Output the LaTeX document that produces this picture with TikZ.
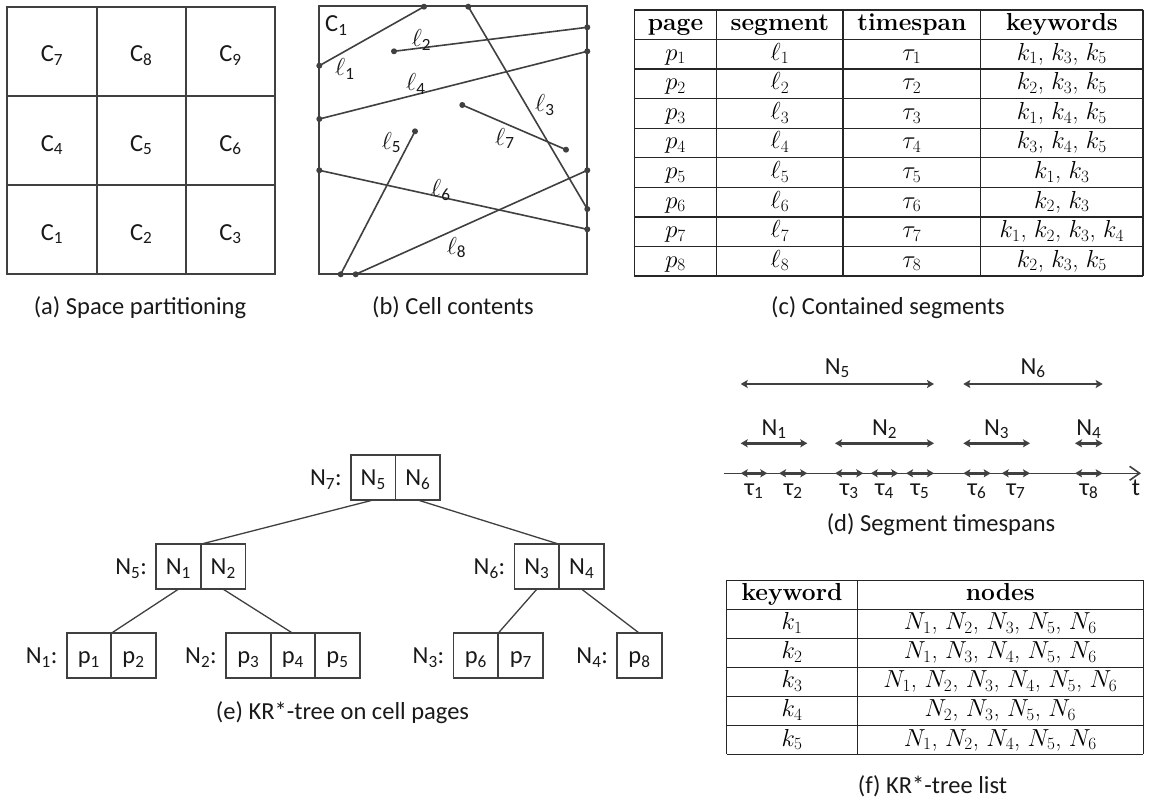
\RequirePackage{fix-cm}
\documentclass[tikz,border=0pt]{standalone}
\usepackage{fontspec}
\newfontfamily\lab{Carlito}
\usetikzlibrary{arrows.meta}
\definecolor{ink}{RGB}{64,64,64}
\definecolor{txt}{RGB}{25,25,25}
\tikzset{
  lbl/.style={font=\lab\fontsize{24.5}{29}\selectfont, text=txt, inner sep=0pt},
  tab/.style={font=\fontsize{24.6}{29.5}\selectfont, text=black, inner sep=0pt, anchor=base},
  tabh/.style={tab, font=\fontsize{24.6}{29.5}\selectfont\bfseries},
  rule/.style={draw=black!85, line width=1.4pt},
  gridline/.style={draw=ink, line width=2pt},
  seg/.style={draw=ink, line width=1.6pt},
  dot/.style={circle, fill=ink, inner sep=0pt, minimum size=6pt},
  span/.style={draw=ink, line width=2.4pt, {Stealth[length=7pt,width=8pt,inset=1.5pt]}-{Stealth[length=7pt,width=8pt,inset=1.5pt]}},
  axis/.style={draw=ink, line width=1.6pt, -{Straight Barb[length=10pt,width=14pt,line width=1.6pt]}},
  cellbox/.style={draw=ink, line width=1.8pt, minimum width=44.6pt, minimum height=45pt,
    inner sep=0pt, outer sep=0pt, text height=16pt, text depth=0pt,
    font=\lab\fontsize{24.5}{29}\selectfont, text=txt},
  tlabel/.style={lbl, text height=16pt, text depth=0pt, anchor=east},
  edge/.style={draw=ink, line width=1.3pt}
}
\begin{document}
\begin{tikzpicture}[x=1pt,y=-1pt]
\fill[white] (0,0) rectangle (1162,800);
\useasboundingbox (0,0) rectangle (1162,800);

% ---------- (a) 3x3 space partition ----------
\draw[gridline] (7.3,6.7) rectangle (275.3,274.3);
\draw[gridline] (96.7,6.7) -- (96.7,274.3);
\draw[gridline] (185.7,6.7) -- (185.7,274.3);
\draw[gridline] (7.3,96) -- (275.3,96);
\draw[gridline] (7.3,185) -- (275.3,185);
\foreach \n/\x/\y in {7/52/51.3, 8/141.2/51.3, 9/230.5/51.3,
                      4/52/140.5, 5/141.2/140.5, 6/230.5/140.5,
                      1/52/229.7, 2/141.2/229.7, 3/230.5/229.7}
  \node[lbl, anchor=base] (cell\n) at (\x,\y+10.5) {C\textsubscript{\n}};
\node[lbl, anchor=base] (capa) at (140,314) {(a) Space partitioning};

% ---------- (b) segments inside cell C1 ----------
\draw[gridline] (319.3,6) rectangle (587.3,274.3);
\node[lbl, anchor=base west] (cellname) at (325,31.7) {C\textsubscript{1}};
\foreach \n/\ax/\ay/\bx/\by in {1/319.3/65.7/424/6.7, 2/394/51.3/587.3/27.3,
    3/468.3/6.7/587.3/209, 4/319.3/119/587.3/51.3, 5/415/131.3/340.7/274.3,
    6/319.3/170.3/587.3/229.3, 7/462.3/105/566/149.7, 8/355.7/274.3/587.3/170.3}{
  \node[dot] (sa\n) at (\ax,\ay) {};
  \node[dot] (sb\n) at (\bx,\by) {};
  \draw[seg] (sa\n.center) -- (sb\n.center);
}
\foreach \n/\x/\y in {1/335/76, 2/411.7/46.7, 3/535/111.7, 4/406/90.7,
                      5/381.7/149, 6/431/196.7, 7/495/145, 8/446.7/254}
  \node[lbl, anchor=base west] (ell\n) at (\x,\y) {$\ell$\textsubscript{\n}};
\node[lbl, anchor=base] (capb) at (453,314) {(b) Cell contents};

% ---------- (c) table of contained segments ----------
\foreach \i in {0,...,9}
  \draw[rule] (634.3,{10+29.556*\i}) -- (1143,{10+29.556*\i});
\foreach \x in {634.3,716.7,843,980.7,1143}
  \draw[rule] (\x,10) -- (\x,276);
\node[tabh] (hpage) at (675.5,30.7) {page};
\node[tabh] (hseg)  at (779.9,30.7) {segment};
\node[tabh] (hspan) at (911.9,30.7) {timespan};
\node[tabh] (hkey)  at (1061.9,30.7) {keywords};
\foreach \i/\kw in {1/{$k_1$, $k_3$, $k_5$}, 2/{$k_2$, $k_3$, $k_5$},
                    3/{$k_1$, $k_4$, $k_5$}, 4/{$k_3$, $k_4$, $k_5$},
                    5/{$k_1$, $k_3$}, 6/{$k_2$, $k_3$},
                    7/{$k_1$, $k_2$, $k_3$, $k_4$}, 8/{$k_2$, $k_3$, $k_5$}}{
  \node[tab] (cp\i) at (675.5,{10+29.556*\i+20.7}) {$p_{\i}$};
  \node[tab] (cl\i) at (779.9,{10+29.556*\i+20.7}) {$\ell_{\i}$};
  \node[tab] (ct\i) at (911.9,{10+29.556*\i+20.7}) {$\tau_{\i}$};
  \node[tab] (ck\i) at (1061.9,{10+29.556*\i+20.7}) {\kw};
}
\node[lbl, anchor=base] (capc) at (888,314) {(c) Contained segments};

% ---------- (d) timespans on the time axis ----------
\coordinate (ax0) at (724,473.3);
\coordinate (ax1) at (1141,473.3);
\draw[axis] (ax0) -- (ax1);
\foreach \n/\a/\b in {1/740.7/767.3, 2/779/807.3, 3/835/863.3, 4/870.7/898.3,
                      5/906/934, 6/963.3/990.7, 7/1001.7/1030, 8/1075/1102.7}{
  \coordinate (tsa\n) at (\a,473.3);
  \coordinate (tsb\n) at (\b,473.3);
  \draw[span] (tsa\n) -- (tsb\n);
  \node[lbl, anchor=base] (tau\n) at ({(\a+\b)/2},495) {τ\textsubscript{\n}};
}
\node[lbl, anchor=base] (tlab) at (1136,495) {t};
\foreach \n/\a/\b/\y/\yl in {5/740.7/934/384/374, 6/963.3/1102.7/384/374,
                             1/740.7/807.3/443.3/435, 2/835/934/443.3/435,
                             3/963.3/1030/443.3/435, 4/1075/1102.7/443.3/435}{
  \coordinate (nsa\n) at (\a,\y);
  \coordinate (nsb\n) at (\b,\y);
  \draw[span] (nsa\n) -- (nsb\n);
  \node[lbl, anchor=base] (nlab\n) at ({(\a+\b)/2},\yl) {N\textsubscript{\n}};
}
\node[lbl, anchor=base] (capd) at (941,531) {(d) Segment timespans};

% ---------- (e) KR*-tree ----------
\node[cellbox] (t7a) at (373.2,477.5) {N\textsubscript{5}};
\node[cellbox] (t7b) at (417.8,477.5) {N\textsubscript{6}};
\node[cellbox] (t5a) at (178.4,566.7) {N\textsubscript{1}};
\node[cellbox] (t5b) at (223.2,566.7) {N\textsubscript{2}};
\node[cellbox] (t6a) at (536.8,566.7) {N\textsubscript{3}};
\node[cellbox] (t6b) at (581.7,566.7) {N\textsubscript{4}};
\node[cellbox] (t1a) at (88.9,655.8) {p\textsubscript{1}};
\node[cellbox] (t1b) at (133.5,655.8) {p\textsubscript{2}};
\node[cellbox] (t2a) at (248.3,655.8) {p\textsubscript{3}};
\node[cellbox] (t2b) at (292.8,655.8) {p\textsubscript{4}};
\node[cellbox] (t2c) at (337.5,655.8) {p\textsubscript{5}};
\node[cellbox] (t3a) at (475.8,655.8) {p\textsubscript{6}};
\node[cellbox] (t3b) at (520.8,655.8) {p\textsubscript{7}};
\node[cellbox] (t4a) at (639.5,655.8) {p\textsubscript{8}};
\node[tlabel] (lab7) at ([xshift=-9pt]t7a.west) {N\textsubscript{7}:};
\node[tlabel] (lab5) at ([xshift=-9pt]t5a.west) {N\textsubscript{5}:};
\node[tlabel] (lab6) at ([xshift=-9pt]t6a.west) {N\textsubscript{6}:};
\node[tlabel] (lab1) at ([xshift=-9pt]t1a.west) {N\textsubscript{1}:};
\node[tlabel] (lab2) at ([xshift=-9pt]t2a.west) {N\textsubscript{2}:};
\node[tlabel] (lab3) at ([xshift=-9pt]t3a.west) {N\textsubscript{3}:};
\node[tlabel] (lab4) at ([xshift=-9pt]t4a.west) {N\textsubscript{4}:};
\draw[edge] (t7a.south) -- (t5a.north east);
\draw[edge] (t7b.south) -- (t6a.north east);
\draw[edge] (t5a.south) -- (t1a.north east);
\draw[edge] (t5b.south) -- (t2b.north);
\draw[edge] (t6a.south) -- (t3a.north east);
\draw[edge] (t6b.south) -- (t4a.north);
\node[lbl, anchor=base] (cape) at (342.5,719) {(e) KR*-tree on cell pages};

% ---------- (f) keyword list ----------
\foreach \i in {0,...,6}
  \draw[rule] (726.7,{580.2+29.02*\i}) -- (1143.3,{580.2+29.02*\i});
\foreach \x in {726.7,857.3,1143.3}
  \draw[rule] (\x,580.2) -- (\x,754.3);
\node[tabh] (hkw) at (792,600.9) {keyword};
\node[tabh] (hnd) at (1000.3,600.9) {nodes};
\foreach \i/\nl in {1/{$N_1$, $N_2$, $N_3$, $N_5$, $N_6$},
                    2/{$N_1$, $N_3$, $N_4$, $N_5$, $N_6$},
                    3/{$N_1$, $N_2$, $N_3$, $N_4$, $N_5$, $N_6$},
                    4/{$N_2$, $N_3$, $N_5$, $N_6$},
                    5/{$N_1$, $N_2$, $N_4$, $N_5$, $N_6$}}{
  \node[tab] (fk\i) at (792,{580.2+29.02*\i+20.7}) {$k_{\i}$};
  \node[tab] (fn\i) at (1000.3,{580.2+29.02*\i+20.7}) {\nl};
}
\node[lbl, anchor=base] (capf) at (932.5,793) {(f) KR*-tree list};
\end{tikzpicture}
\end{document}
